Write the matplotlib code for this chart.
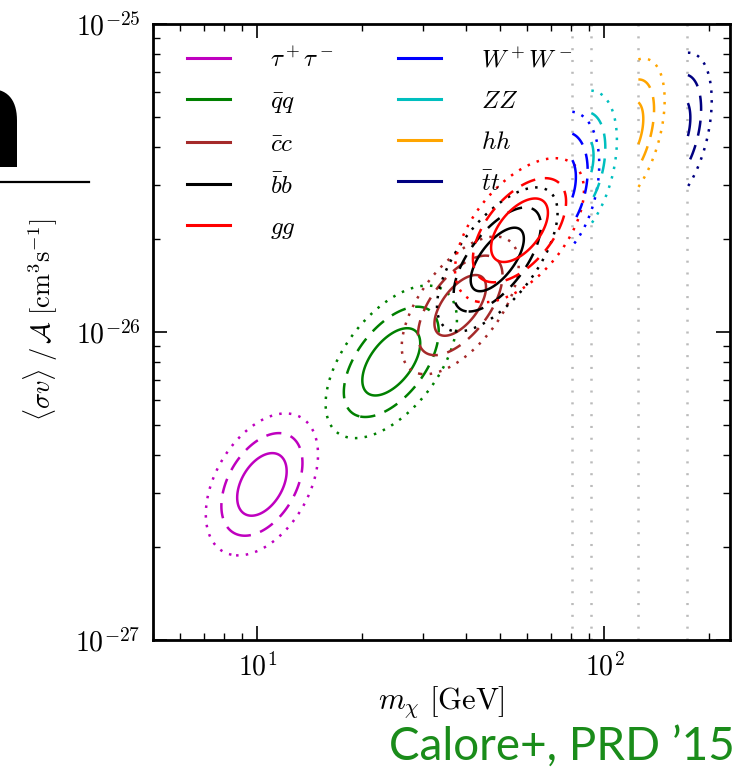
import numpy as np
import matplotlib
matplotlib.use("Agg")
import matplotlib.pyplot as plt
from matplotlib.lines import Line2D
from matplotlib.ticker import FuncFormatter, NullFormatter

plt.rcParams['mathtext.fontset'] = 'cm'
plt.rcParams['lines.scale_dashes'] = False

# Canais de aniquilacao e parametros (ajuste gaussiano em log-log)
canais = ['tau', 'qq', 'cc', 'bb', 'gg', 'WW', 'ZZ', 'hh', 'tt']
rotulos = [r'$\tau^+\tau^-$', r'$\bar{q}q$', r'$\bar{c}c$', r'$\bar{b}b$', r'$gg$',
           r'$W^+W^-$', r'$ZZ$', r'$hh$', r'$\bar{t}t$']
cores = ['m', 'g', 'brown', 'k', 'r', 'b', 'c', 'orange', 'navy']
massa_centro = [10.3, 24.3, 38.4, 49.1, 56.9, 73.2, 82.3, 115.7, 158.1]      # GeV
sv_centro = [0.32, 0.80, 1.22, 1.72, 2.14, 2.96, 3.41, 4.40, 4.49]           # 1e-26 cm^3/s
sig_logm = [0.047, 0.055, 0.049, 0.0505, 0.054, 0.035, 0.035, 0.032, 0.032]
sig_logsv = [0.067, 0.072, 0.065, 0.068, 0.068, 0.071, 0.073, 0.071, 0.074]
rho = [0.42, 0.55, 0.60, 0.65, 0.55, 0.30, 0.36, 0.45, 0.39]
limiar = [0, 0, 0, 0, 0, 80.4, 91.2, 125.0, 173.0]   # massa minima (GeV)
niveis_chi2 = [2.30, 6.18, 11.83]                     # 1, 2, 3 sigma

fig = plt.figure(figsize=(7.39, 7.68), dpi=100)
ax = fig.add_axes([153/739, 1-640/768, 577/739, 616/768])

lm = np.linspace(np.log10(5), np.log10(230), 700)
ls = np.linspace(-27, -25, 700)
LM, LS = np.meshgrid(lm, ls)
M, SV = 10**LM, 10**LS

estilos = ['solid', (0, (11, 7)), (0, (1.8, 5.2))]
for i in range(len(canais)):
    dx = (LM - np.log10(massa_centro[i])) / sig_logm[i]
    dy = (LS - np.log10(sv_centro[i] * 1e-26)) / sig_logsv[i]
    r = rho[i]
    chi2 = (dx**2 - 2*r*dx*dy + dy**2) / (1 - r**2)
    chi2 = np.where(M >= limiar[i], chi2, np.nan)
    ax.contour(M, SV, chi2, levels=niveis_chi2, colors=cores[i],
               linestyles=estilos, linewidths=1.8)

# linhas de limiar cinematico
for t in limiar[5:]:
    ax.axvline(t, color='#bbbbbb', lw=1.8, ls=(0, (1.5, 7)), zorder=0)

ax.set_xscale('log')
ax.set_yscale('log')
ax.set_xlim(5, 230)
ax.set_ylim(1e-27, 1e-25)

fmt = FuncFormatter(lambda v, p: r'$10^{%d}$' % round(np.log10(v)))
ax.xaxis.set_major_formatter(fmt)
ax.yaxis.set_major_formatter(fmt)
ax.xaxis.set_minor_formatter(NullFormatter())
ax.yaxis.set_minor_formatter(NullFormatter())
ax.tick_params(which='both', direction='in', top=True, right=True, labelsize=20)
ax.tick_params(which='major', length=10, width=1.2, pad=9)
ax.tick_params(which='minor', length=5, width=1.0)
for s in ax.spines.values():
    s.set_linewidth(2)

ax.set_xlabel(r'$m_\chi\ [\mathrm{GeV}]$', fontsize=22)
ax.xaxis.set_label_coords(0.5, -0.072)
ax.set_ylabel(r'$\langle\sigma v\rangle\ /\,\mathcal{A}\ [\mathrm{cm}^3\mathrm{s}^{-1}]$',
              fontsize=19)
ax.yaxis.set_label_coords(-0.161, 0.52)

handles = [Line2D([], [], color=c, lw=2.2) for c in cores]
ax.legend(handles, rotulos, ncol=2, loc='upper left', bbox_to_anchor=(0.02, 0.998),
          frameon=False, fontsize=18, handlelength=1.7, handletextpad=1.6,
          columnspacing=2.6, labelspacing=0.68)

# restos do slide
fig.text(-72/739, 1-167/768, 'n', ha='left', va='baseline', fontsize=100,
         fontweight='bold', family='DejaVu Sans', color='k')
fig.add_artist(Line2D([0, 89/739], [1-182/768, 1-182/768], color='k', lw=1.6))
fig.text(735/739, 1-760/768, 'Calore+, PRD \u201915', ha='right', va='baseline',
         fontsize=33, color='#1a8c1a', family='Lato')

fig.savefig('out.png', dpi=100)
